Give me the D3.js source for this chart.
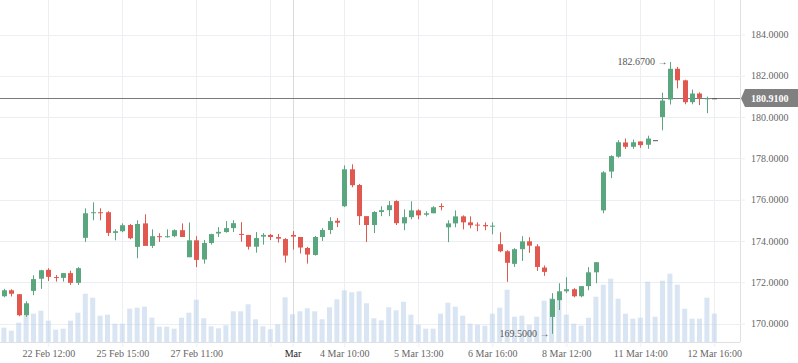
<!DOCTYPE html>
<html>
<head>
<meta charset="utf-8">
<script src="https://cdn.jsdelivr.net/npm/d3@7"></script>
<style>
  body { margin: 0; background: #fff; }
  svg text { font-family: "Liberation Serif", "Times New Roman", serif; }
</style>
</head>
<body>
<svg id="chart"></svg>
<script>
// candles
var open  = [171.32,171.61,171.42,170.40,171.58,172.17,172.60,172.25,172.21,172.44,171.97,174.15,175.35,175.39,175.39,174.39,174.47,174.77,173.71,174.85,
             173.76,174.23,174.18,174.23,174.52,173.21,174.03,173.10,173.90,174.36,174.43,174.62,174.34,174.29,173.72,174.21,174.29,174.19,174.09,174.29,
             174.19,173.66,173.32,174.19,174.53,174.98,175.68,177.47,176.71,175.20,174.77,175.40,175.49,175.93,174.85,175.15,175.48,175.27,175.34,175.69,
             174.66,174.85,175.19,174.90,174.79,174.77,174.71,173.84,173.50,172.89,173.60,173.98,173.74,172.71,170.32,171.13,171.56,171.66,171.32,171.81,
             172.48,175.48,177.36,178.08,178.77,178.56,178.82,178.66,178.88,180.00,180.85,182.34,181.78,180.72,181.14,180.90,180.91];
var high  = [171.68,171.66,171.42,171.08,172.34,172.60,172.68,172.35,172.44,172.56,172.73,175.58,175.87,175.58,175.44,174.56,174.85,174.82,175.00,175.29,
             174.56,174.37,174.56,174.56,174.85,174.89,174.23,174.04,174.35,174.67,174.96,175.00,174.91,174.29,174.43,174.38,174.34,174.34,174.14,174.48,
             174.19,173.71,174.24,174.62,175.15,175.11,177.66,177.71,176.76,175.20,175.44,175.68,175.93,175.97,175.53,175.92,175.53,175.44,175.68,175.82,
             175.00,175.48,175.24,175.19,174.90,174.90,174.90,174.42,173.55,173.65,174.23,174.18,173.84,172.81,171.47,171.95,172.24,171.71,171.81,172.73,
             172.97,177.38,178.15,178.88,178.96,178.91,178.82,179.10,178.88,181.18,182.67,182.43,181.81,181.33,181.20,180.99,180.91];
var low   = [171.27,171.31,170.35,170.32,171.37,171.68,172.06,172.03,172.03,171.87,171.87,173.95,175.00,175.00,174.24,174.03,174.42,174.08,173.16,173.76,
             173.66,173.95,174.16,174.18,174.19,173.21,172.73,172.90,173.82,174.19,174.40,174.43,173.96,173.58,173.43,173.82,174.04,173.92,172.95,173.58,
             173.39,172.90,173.29,174.00,174.33,174.67,175.64,176.60,174.77,173.95,174.38,175.20,175.20,174.77,174.52,175.05,175.05,175.19,175.34,175.48,
             173.94,174.66,174.56,174.61,174.47,174.52,174.32,173.45,172.02,172.74,173.03,173.42,172.55,172.31,169.50,170.65,171.47,171.27,171.27,171.61,
             171.95,175.34,177.04,178.03,178.46,178.46,178.51,178.46,178.88,179.36,180.61,181.39,180.62,180.62,180.58,180.19,180.91];
var close = [171.61,171.44,170.40,170.98,172.15,172.58,172.26,172.22,172.44,171.97,172.68,175.34,175.39,175.36,174.39,174.47,174.76,174.13,174.82,173.76,
             174.23,174.18,174.23,174.52,174.19,174.03,173.08,173.90,174.33,174.44,174.62,174.86,174.30,173.72,174.14,174.29,174.19,174.11,173.29,174.21,
             173.68,173.34,174.19,174.53,174.96,174.88,177.47,176.70,175.20,174.77,175.40,175.49,175.73,174.86,175.15,175.48,175.24,175.34,175.63,175.65,
             174.85,175.19,174.90,174.76,174.76,174.71,174.74,173.50,172.94,173.60,173.98,173.77,172.74,172.50,171.18,171.56,171.66,171.32,171.81,172.48,
             172.97,177.32,178.11,178.78,178.56,178.78,178.64,178.96,178.88,180.80,182.34,181.78,180.72,181.14,180.93,180.91,180.91];
var volume = [143,113,193,265,283,313,213,123,133,213,293,483,443,263,273,183,183,333,343,353,
              243,153,153,133,243,293,423,237,157,137,167,307,307,377,227,157,127,177,447,277,
              307,337,307,227,347,427,517,497,507,387,237,217,347,317,403,273,173,133,133,283,
              393,353,263,183,173,163,283,343,523,253,263,173,253,413,440,420,273,183,163,243,
              453,573,633,433,283,233,243,603,253,613,683,573,333,233,233,443,283];

// time axis ticks (candle index -> label)
var tickIdx    = [6, 16, 26, 36, 39, 46, 56, 66, 76, 86, 96];
var tickLabels = ["22 Feb 12:00", "25 Feb 15:00", "27 Feb 11:00", "", "Mar", "4 Mar 10:00",
                  "5 Mar 13:00", "6 Mar 16:00", "8 Mar 12:00", "11 Mar 14:00", "12 Mar 16:00"];
var priceTicks = [170, 172, 174, 176, 178, 180, 182, 184];
var lastPrice = 180.91;

var width = 798, height = 363;
var plotRight = 740, plotBottom = 342;

var svg = d3.select("#chart").attr("width", width).attr("height", height);

var n = close.length;
var x = d3.scaleLinear().domain([0, n - 1]).range([3.9, 714.3]);
var y = d3.scaleLinear().domain([170, 184]).range([323.5, 34.5]);
var yVol = d3.scaleLinear().domain([0, 1000]).range([plotBottom, plotBottom - 100]);

var green = "#5aa67f", red = "#e0584f", flat = "#555";

// grid
svg.append("g").selectAll("line").data(priceTicks).enter().append("line")
  .attr("x1", 0).attr("x2", plotRight)
  .attr("y1", function(d) { return Math.round(y(d)) + 0.5; })
  .attr("y2", function(d) { return Math.round(y(d)) + 0.5; })
  .attr("stroke", "#eceff2");

svg.append("g").selectAll("line").data(tickIdx).enter().append("line")
  .attr("x1", function(d) { return Math.round(x(d)) + 0.5; })
  .attr("x2", function(d) { return Math.round(x(d)) + 0.5; })
  .attr("y1", 0).attr("y2", plotBottom)
  .attr("stroke", function(d, i) { return tickLabels[i] == "Mar" ? "#d9dcdf" : "#eceff2"; });

// volume bars
var idx = d3.range(n);
svg.append("g").selectAll("rect").data(idx).enter().append("rect")
  .attr("x", function(i) { return x(i) - 2.5; })
  .attr("width", 5)
  .attr("y", function(i) { return yVol(volume[i]); })
  .attr("height", function(i) { return plotBottom - yVol(volume[i]); })
  .attr("fill", "#b3cbe6")
  .attr("fill-opacity", 0.5);

// current price line
svg.append("line")
  .attr("x1", 0).attr("x2", plotRight)
  .attr("y1", Math.round(y(lastPrice)) + 0.5).attr("y2", Math.round(y(lastPrice)) + 0.5)
  .attr("stroke", "#7a7a7a");

// candles
function col(i) {
  if (close[i] > open[i]) return green;
  if (close[i] < open[i]) return red;
  return flat;
}
var candles = svg.append("g").selectAll("g").data(idx).enter().append("g");
candles.append("line")
  .attr("x1", function(i) { return Math.round(x(i)) + 0.5; })
  .attr("x2", function(i) { return Math.round(x(i)) + 0.5; })
  .attr("y1", function(i) { return y(high[i]); })
  .attr("y2", function(i) { return y(low[i]); })
  .attr("stroke", col);
candles.append("rect")
  .attr("x", function(i) { return Math.round(x(i)) - 2; })
  .attr("width", 5)
  .attr("y", function(i) { return y(Math.max(open[i], close[i])); })
  .attr("height", function(i) { return Math.max(1, Math.abs(y(open[i]) - y(close[i]))); })
  .attr("fill", col);

// axes
var yAxis = svg.append("g")
  .attr("transform", "translate(" + plotRight + ",0)")
  .call(d3.axisRight(y).tickValues(priceTicks).tickFormat(d3.format(".4f")).tickSize(5).tickPadding(6));
yAxis.select(".domain").attr("d", "M0.5,0V" + plotBottom).attr("stroke", "#dde1e5");
yAxis.selectAll(".tick line").attr("stroke", "#eceff2");
yAxis.selectAll("text").attr("fill", "#666").style("font-size", "10px");

var xAxis = svg.append("g")
  .attr("transform", "translate(0," + plotBottom + ")")
  .call(d3.axisBottom(x).tickValues(tickIdx)
    .tickFormat(function(d, i) { return tickLabels[i]; })
    .tickSize(5).tickPadding(3));
xAxis.select(".domain").attr("d", "M0,0.5H" + plotRight).attr("stroke", "#dde1e5");
xAxis.selectAll(".tick line").attr("stroke", "#eceff2");
xAxis.selectAll("text").attr("fill", "#666").style("font-size", "10px")
  .filter(function(d, i) { return tickLabels[i] == "Mar"; })
  .attr("fill", "#222");

// last price tag
var ly = Math.round(y(lastPrice));
svg.append("path")
  .attr("d", "M741," + (ly + 0.5) + "L745," + (ly - 9) + "H798V" + (ly + 9) + "H745Z")
  .attr("fill", "#808080");
svg.append("text")
  .attr("x", 751).attr("y", ly + 0.5).attr("dy", "0.35em")
  .attr("fill", "#fff").style("font-size", "10px").style("font-weight", "bold")
  .text(d3.format(".4f")(lastPrice));

// high / low markers
var hi = d3.maxIndex(high), lo = d3.minIndex(low);
svg.append("text")
  .attr("x", x(hi) - 2.5).attr("y", y(high[hi])).attr("dy", "0.35em")
  .attr("text-anchor", "end").attr("fill", "#555").style("font-size", "10px")
  .text(d3.format(".4f")(high[hi]) + " \u2192");
svg.append("text")
  .attr("x", x(lo) - 2).attr("y", y(low[lo])).attr("dy", "0.35em")
  .attr("text-anchor", "end").attr("fill", "#555").style("font-size", "10px")
  .text(d3.format(".4f")(low[lo]) + " \u2192");
</script>
</body>
</html>
